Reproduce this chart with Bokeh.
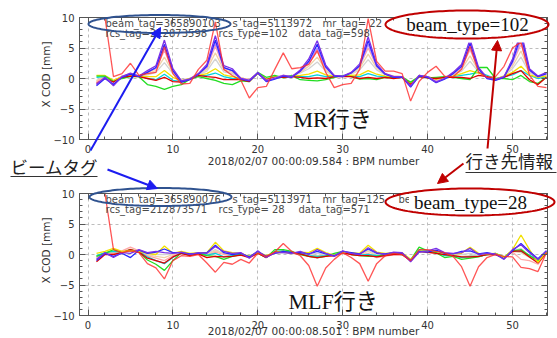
import numpy as np
from bokeh.plotting import figure
from bokeh.models import (Range1d, SingleIntervalTicker, FixedTicker, LinearAxis, Grid, Label,
                          Arrow, NormalHead, PolyAnnotation)
from bokeh.embed import file_html
from bokeh.resources import INLINE

# ---------------- data ----------------
bpm = list(range(1, 55))
x_major = [0, 10, 20, 30, 40, 50]
x_minor = [v for v in range(0, 55, 2) if v % 10]
y_major = [-10, -5, 0, 5, 10]
y_minor = [v for v in range(-10, 11) if v % 5]
y_label_overrides = {-10: "\u221210", -5: "\u22125"}
NA = float("nan")   # first BPM of the off-scale red trace is above the frame

mr_purple = [-1.0, 0.2, -1.2, 0.3, 0.9, 0.4, 1.3, 2.1, 6.3, 1.6,
             -0.4, -0.1, 0.8, 2.3, 7.0, 2.1, 1.6, 0.0, -0.3, 1.0,
             -0.4, 0.0, 0.5, 0.3, 1.4, 3.2, 6.2, 2.2, 0.5, 0.4,
             1.0, 2.4, 6.8, 2.4, 0.8, 0.3, 0.3, -1.3, 0.5, 0.3,
             -0.6, 0.0, 1.0, 2.3, 6.4, 1.8, 0.1, -0.2, 0.3, 3.2,
             7.8, 1.6, 0.4, 1.0]
mr_blue = [-1.2, 0.0, -1.0, 0.2, 0.7, 0.3, 1.0, 1.8, 5.6, 1.3,
           -0.6, -0.2, 0.7, 2.0, 6.3, 1.8, 1.3, -0.1, -0.4, 0.9,
           -0.5, -0.1, 0.4, 0.2, 1.2, 2.8, 5.6, 1.9, 0.4, 0.3,
           0.9, 2.1, 6.2, 2.1, 0.7, 0.2, 0.2, -1.4, 0.4, 0.2,
           -0.7, -0.1, 0.8, 2.0, 5.8, 1.6, 0.0, -0.3, 0.2, 2.8,
           7.0, 1.4, 0.3, 0.8]
mr_violet = [-0.9, 0.1, -0.9, 0.3, 0.8, 0.4, 1.1, 1.7, 5.1, 1.3,
             -0.4, -0.1, 0.7, 1.9, 5.8, 1.8, 1.3, 0.0, -0.3, 0.9,
             -0.3, 0.1, 0.5, 0.3, 1.2, 2.6, 5.0, 1.8, 0.4, 0.4,
             0.9, 2.0, 5.6, 2.0, 0.7, 0.3, 0.3, -1.2, 0.5, 0.3,
             -0.5, 0.0, 0.8, 1.9, 5.2, 1.6, 0.1, -0.2, 0.3, 2.6,
             6.3, 1.3, 0.3, 0.8]
mr_pink = [-0.6, 0.3, -0.6, 0.4, 0.8, 0.4, 1.0, 1.6, 4.6, 1.2,
           -0.3, 0.0, 0.8, 1.8, 5.3, 1.7, 1.2, 0.1, -0.2, 0.9,
           -0.2, 0.2, 0.5, 0.4, 1.1, 2.5, 4.4, 1.7, 0.5, 0.4,
           0.9, 2.0, 5.0, 2.0, 0.8, 0.4, 0.3, -1.1, 0.5, 0.3,
           -0.4, 0.1, 0.8, 1.8, 4.7, 1.5, 0.2, -0.1, 0.4, 2.5,
           5.6, 1.3, 0.3, 0.7]
mr_beige = [-0.4, 0.3, -0.5, 0.4, 0.7, 0.4, 0.8, 1.3, 3.5, 1.0,
            -0.3, 0.0, 0.7, 1.5, 4.2, 1.4, 1.0, 0.1, -0.2, 0.8,
            -0.2, 0.2, 0.5, 0.4, 1.0, 2.0, 3.5, 1.4, 0.5, 0.4,
            0.8, 1.7, 4.0, 1.7, 0.7, 0.4, 0.3, -1.0, 0.5, 0.3,
            -0.3, 0.1, 0.7, 1.5, 3.7, 1.3, 0.2, -0.1, 0.4, 2.0,
            4.5, 1.1, 0.3, 0.6]
mr_gray = [-0.3, 0.3, -0.4, 0.3, 0.6, 0.4, 0.6, 1.0, 2.6, 0.8,
           -0.3, 0.0, 0.6, 1.2, 3.2, 1.1, 0.8, 0.1, -0.2, 0.8,
           -0.2, 0.2, 0.4, 0.4, 0.9, 1.6, 2.7, 1.2, 0.4, 0.4,
           0.7, 1.4, 3.1, 1.4, 0.6, 0.4, 0.3, -1.0, 0.5, 0.3,
           -0.2, 0.1, 0.6, 1.2, 2.8, 1.1, 0.2, -0.1, 0.4, 1.6,
           3.5, 0.9, 0.3, 0.5]
mr_yellow = [0.5, 0.5, -0.3, 0.3, 0.5, 0.4, 0.3, 0.3, 1.3, 0.2,
             -0.4, 0.0, 0.5, 0.8, 1.6, 0.6, 0.3, 0.0, -0.3, 0.8,
             -0.1, 0.3, 0.3, 0.4, 0.5, 0.7, 1.2, 0.6, 0.4, 0.4,
             0.5, 0.6, 1.3, 0.7, 0.4, 0.3, 0.3, -0.8, 0.5, 0.3,
             -0.1, 0.2, 0.4, 0.8, 1.3, 0.9, 0.3, -0.1, 0.4, 1.0,
             2.0, 0.6, 0.2, 0.4]
mr_cyan = [0.2, 0.3, -0.4, 0.2, 0.5, 0.4, 0.0, -0.2, 0.7, -0.3,
           -0.5, 0.0, 0.4, 0.5, 0.9, 0.3, 0.0, -0.1, -0.4, 0.8,
           -0.1, 0.3, 0.2, 0.4, 0.3, 0.3, 0.6, 0.3, 0.3, 0.4,
           0.4, 0.3, 0.8, 0.4, 0.3, 0.2, 0.3, -0.8, 0.4, 0.2,
           0.0, 0.2, 0.3, 0.5, 0.7, 1.0, 0.5, -0.1, 0.3, 0.6,
           1.3, 0.5, 0.0, 0.3]
mr_green = [0.4, 0.4, -0.5, 0.0, 0.3, 0.3, -1.0, -1.3, -1.8, -1.3,
            -1.0, -0.1, 0.3, 0.0, -0.3, -0.8, -1.0, -0.4, -0.5, 1.0,
            0.2, 0.5, 0.1, 0.5, -0.2, -0.3, -0.4, -0.2, 0.2, 0.5,
            0.3, -0.1, 0.0, -0.2, 0.2, 0.1, 0.2, -0.6, 0.3, 0.1,
            0.2, 0.3, 0.2, 0.0, -0.2, 1.8, 1.8, 0.0, 0.0, -0.2,
            0.5, -0.5, -0.8, 0.2]
mr_red = [-0.8, 0.0, -0.6, 0.2, 0.4, 0.3, 0.0, -0.3, 0.2, -0.5,
          -0.6, -0.1, 0.5, 0.3, 0.2, -0.2, -0.2, -0.2, -0.5, 0.9,
          -0.2, 0.2, 0.2, 0.3, 0.2, 0.0, 0.1, 0.0, 0.3, 0.3,
          0.3, 0.0, 0.2, 0.0, 0.2, 0.0, 0.2, -1.0, 0.3, 0.1,
          0.0, 0.2, 0.2, 0.2, 0.0, 0.5, 0.3, -0.2, 0.2, 0.8,
          1.3, -0.2, -1.0, 0.2]
mr_outlier = [NA, 10.0, 0.3, 0.8, 2.5, 0.5, 0.8, 1.0, 5.2, 0.8,
              -0.9, -0.8, 1.5, 3.0, 9.3, 1.5, 0.5, -0.3, -3.2, -1.5,
              -1.3, 1.5, 4.2, 1.6, 1.8, 2.3, 4.6, 1.0, -1.5, -1.0,
              -0.8, 1.5, 9.8, 2.8, 1.2, 1.2, 0.8, -3.7, -0.5, 1.0,
              2.0, 0.4, 0.3, 1.5, 5.3, 1.0, 0.2, 0.3, 2.0, 5.0,
              6.0, 0.5, -1.3, -1.5]

mlf_purple = [-0.8, 0.3, -0.5, 0.3, 0.2, 0.8, 0.3, 0.5, 0.3, 0.2,
              0.4, 0.0, 0.3, 0.2, 1.3, 0.5, 0.2, 0.3, -0.6, 0.6,
              -0.5, 0.3, 0.3, 0.2, 0.5, 0.0, 0.8, 0.2, -0.3, 0.6,
              0.2, 0.0, 1.1, 0.3, 0.0, 0.4, 0.3, -1.2, 0.4, 0.6,
              1.0, 0.3, 0.2, 0.3, 1.0, 0.0, 0.2, 0.1, -0.8, 0.8,
              1.6, 0.3, -0.8, 0.6]
mlf_blue = [-1.0, 0.2, -0.3, 0.2, -0.5, 0.7, 0.2, 0.4, 0.9, 0.3,
            0.3, 0.1, 0.2, 0.3, 1.5, 0.3, 0.0, 0.2, -0.4, 0.5,
            -0.3, 0.2, 0.5, 0.3, 0.3, 0.1, 0.5, 0.1, -0.2, 0.5,
            0.3, 0.1, 0.9, 0.2, 0.1, 0.3, 0.2, -1.0, 0.5, 0.4,
            0.7, 0.2, 0.1, 0.5, 0.6, 0.1, 0.3, 0.0, -0.7, 0.6,
            1.8, 0.5, -0.7, 0.6]
mlf_yellow = [0.2, 0.5, 1.0, 0.5, 0.6, 0.5, 0.2, 0.0, 1.4, 0.2,
              0.5, 0.2, 0.3, 0.3, 2.0, 0.6, 0.3, 0.2, -0.3, 0.4,
              -0.2, 0.3, 0.5, 0.2, 0.4, 0.3, 1.0, 0.3, -0.1, 0.4,
              0.3, 0.2, 1.5, 0.4, 0.2, 0.3, 0.3, -0.8, 0.6, 0.5,
              0.5, 0.2, 0.1, 0.2, 1.2, 0.2, 0.1, 0.2, -0.5, 0.8,
              3.2, 0.8, -1.3, 0.5]
mlf_green = [-0.3, 0.2, 0.8, 0.3, 0.8, 0.4, -0.9, -1.6, -2.6, -1.0,
             0.3, -0.2, 0.2, -0.2, -0.3, -0.8, -0.3, 0.0, -0.3, 0.2,
             -0.5, 0.8, 0.8, 0.5, 0.0, -0.3, -0.5, -0.3, 0.2, 0.5,
             0.0, -0.2, -0.3, -0.3, 0.0, 0.1, 0.0, -0.9, 1.2, 0.6,
             0.3, -0.5, -0.3, -0.8, -0.6, -0.4, 0.0, 0.2, -0.4, 0.6,
             0.8, -0.2, -1.0, 0.4]
mlf_pink = [-0.5, 0.3, 0.2, 0.6, 1.2, 0.6, -0.2, -0.6, -1.0, -0.2,
            0.3, 0.0, 0.2, -0.2, 0.4, 0.0, -0.2, 0.0, -0.4, 0.2,
            -0.4, 0.2, 0.4, 0.2, 0.2, -0.3, -0.6, -0.2, -0.3, 0.2,
            0.0, -0.1, 0.2, -0.5, -0.3, 0.0, 0.0, -1.0, 0.5, 0.3,
            0.2, 0.0, -0.2, -0.5, -0.5, -0.3, 0.0, 0.0, -0.6, 0.4,
            -0.8, -1.0, -1.6, 0.3]
mlf_beige = [-0.4, 0.3, 0.3, 0.5, 0.9, 0.5, 0.0, -0.3, -0.5, 0.0,
             0.4, 0.0, 0.2, 0.0, 0.6, 0.2, 0.0, 0.1, -0.4, 0.3,
             -0.4, 0.2, 0.4, 0.2, 0.3, -0.1, -0.2, -0.1, -0.3, 0.3,
             0.1, 0.0, 0.5, -0.2, -0.2, 0.1, 0.1, -1.0, 0.5, 0.3,
             0.4, 0.1, -0.1, -0.3, -0.2, -0.2, 0.0, 0.0, -0.6, 0.5,
             0.3, -0.5, -1.3, 0.4]
mlf_gray = [-0.6, 0.2, 0.0, 0.4, 0.7, 0.6, 0.1, 0.0, 0.0, 0.1,
            0.3, 0.0, 0.2, 0.1, 0.8, 0.2, 0.1, 0.1, -0.5, 0.4,
            -0.4, 0.2, 0.3, 0.2, 0.3, 0.0, 0.2, 0.0, -0.3, 0.4,
            0.1, 0.0, 0.7, 0.0, -0.1, 0.2, 0.1, -1.1, 0.4, 0.4,
            0.6, 0.2, 0.0, 0.0, 0.2, -0.1, 0.1, 0.0, -0.7, 0.6,
            1.0, -0.2, -1.1, 0.5]
mlf_cyan = [-0.2, 0.3, 0.5, 0.4, 0.6, 0.5, -0.4, -1.0, -1.5, -0.5,
            0.3, -0.1, 0.2, -0.1, 0.2, -0.4, -0.2, 0.0, -0.3, 0.3,
            -0.4, 0.5, 0.6, 0.4, 0.1, -0.2, -0.3, -0.2, 0.0, 0.4,
            0.1, -0.1, 0.0, -0.2, -0.1, 0.1, 0.1, -0.9, 0.8, 0.5,
            0.3, -0.2, -0.2, -0.5, -0.3, -0.3, 0.0, 0.1, -0.5, 0.6,
            0.5, -0.1, -1.0, 0.4]
mlf_red = [-1.2, 0.0, 0.0, 0.3, 0.8, 0.4, -0.6, -1.0, -1.4, -0.4,
           0.2, -0.2, 0.1, -0.5, -0.3, -0.4, -0.3, -0.1, -0.5, 0.2,
           -0.5, 0.4, 0.5, 0.2, 0.1, -0.3, -0.5, -0.3, -0.2, 0.3,
           0.0, -0.2, -0.2, -0.4, -0.2, 0.0, 0.0, -1.0, 0.5, 0.4,
           0.2, 0.0, -0.2, -0.4, -0.4, -0.3, 0.0, 0.0, -0.6, 0.5,
           0.6, -0.4, -1.4, 0.3]
mlf_outlier = [NA, 10.0, 0.8, 0.3, 0.6, 0.3, -1.5, -2.2, -4.0, -1.0,
               -0.2, -0.3, 0.0, -1.4, -2.9, -1.3, -1.6, -0.8, -1.4, 0.2,
               -0.3, 0.4, 1.8, 0.5, -0.2, -1.8, -5.2, -2.2, -0.8, 0.3,
               -0.5, -1.5, -4.4, -1.5, -0.2, 0.2, 0.0, -1.0, 0.8, 0.8,
               0.5, 0.3, -0.3, -2.0, -5.2, -2.0, -0.5, 0.0, -0.3, -0.4,
               -2.1, -2.3, -2.8, 0.3]

mr_header1 = ["beam_tag=365890103", "s_tag=5113972", "mr_tag= 22", "beam_type=102"]
mr_header2 = ["rcs_tag=212873598", "rcs_type=102", "data_tag=598"]
mlf_header1 = ["beam_tag=365890076", "s_tag=5113971", "mr_tag=125", "beam_type= 28"]
mlf_header2 = ["rcs_tag=212873571", "rcs_type= 28", "data_tag=571"]
mr_xtitle = "2018/02/07 00:00:09.584 : BPM number"
mlf_xtitle = "2018/02/07 00:00:08.501 : BPM number"
y_title = "X COD [mm]"

# ---------------- styles / layout ----------------
mr_lines = [(mr_gray, "#d2d2d2", 1.0), (mr_beige, "#f0d2a8", 1.0), (mr_pink, "#ffa8a8", 1.0),
            (mr_cyan, "#00d0e0", 1.0), (mr_yellow, "#f2e000", 1.0), (mr_green, "#22dd22", 1.0),
            (mr_red, "#e00000", 1.0), (mr_violet, "#b080ff", 1.0), (mr_blue, "#2828ff", 1.0),
            (mr_purple, "#7a30e8", 1.0), (mr_outlier, "#ff2a2a", 0.8)]
mlf_lines = [(mlf_gray, "#d2d2d2", 1.0), (mlf_beige, "#f0d2a8", 1.0), (mlf_pink, "#ffa8a8", 1.0),
             (mlf_cyan, "#00d0e0", 1.0), (mlf_green, "#22dd22", 1.0), (mlf_red, "#e00000", 1.0),
             (mlf_yellow, "#f2e000", 1.0), (mlf_blue, "#2828ff", 1.0), (mlf_purple, "#7a30e8", 1.0),
             (mlf_outlier, "#ff2a2a", 0.8)]

W, H = 557, 338
KX, X0PX = 8.49, 87.5          # px per BPM, px of BPM 0
KY = 6.1                       # px per mm
Y0_TOP, Y0_BOT = 78.0, 254.0   # px of 0 mm in each panel
XA, XB = -1.0, 54.12           # panel box in BPM
AX = "#555555"
FONT = "DejaVu Sans"
SERIF = "'Liberation Serif', 'Noto Sans CJK JP'"
JP = "Noto Sans CJK JP"
BLUE, NAVY, RED = "#1c1cf0", "#2f528f", "#c00000"

p = figure(width=W, height=H, x_range=Range1d(-X0PX / KX, (W - X0PX) / KX),
           y_range=Range1d((Y0_TOP - H) / KY, Y0_TOP / KY),
           output_backend="svg", toolbar_location=None, x_axis_type=None, y_axis_type=None,
           min_border=0)
p.extra_y_ranges = {"bot": Range1d((Y0_BOT - H) / KY, Y0_BOT / KY)}
p.outline_line_color = None
p.background_fill_color = "white"
p.border_fill_color = "white"


def d(rx, ry):
    """page pixel -> data coords of the default (top) ranges"""
    return (rx - X0PX) / KX, (Y0_TOP - ry) / KY


def build_panel(rng, lines):
    xt = SingleIntervalTicker(interval=10, num_minor_ticks=5)
    yt = SingleIntervalTicker(interval=5, num_minor_ticks=5)
    common = dict(axis_line_color=AX, major_tick_line_color=AX, minor_tick_line_color=AX,
                  major_tick_out=0, minor_tick_out=0, major_label_text_font=FONT,
                  major_label_text_color="#333333", major_label_text_font_size="10px",
                  y_range_name=rng)
    for dim, t, b, cb in ((0, xt, (XA, XB), (-10, 10)), (1, yt, (-10, 10), (XA, XB))):
        p.add_layout(Grid(dimension=dim, ticker=t, bounds=b, cross_bounds=cb, y_range_name=rng,
                          grid_line_color="#bdbdbd", grid_line_dash="3 3", grid_line_width=1))
    for vals, c, a in lines:
        p.line(bpm, vals, line_color=c, line_width=1.3, line_alpha=a, y_range_name=rng)
    p.add_layout(LinearAxis(ticker=xt, fixed_location=-10, bounds=(XA, XB), major_tick_in=6,
                            minor_tick_in=3, major_label_standoff=5, **common), "below")
    p.add_layout(LinearAxis(ticker=yt, fixed_location=XA, bounds=(-10, 10), major_tick_in=6,
                            minor_tick_in=3, major_label_standoff=5,
                            major_label_overrides=y_label_overrides, **common), "left")
    for ticks, tin in ((x_major, 6), (x_minor, 3)):
        p.add_layout(LinearAxis(ticker=FixedTicker(ticks=[], minor_ticks=ticks), fixed_location=10,
                                bounds=(XA, XB), major_tick_in=0, minor_tick_in=tin, **common), "above")
    for ticks, tin in ((y_major, 6), (y_minor, 3)):
        p.add_layout(LinearAxis(ticker=FixedTicker(ticks=[], minor_ticks=ticks), fixed_location=XB,
                                bounds=(-10, 10), major_tick_in=0, minor_tick_in=tin, **common), "right")


def label(rx, ry, text, font, size, color, align="left", angle=0.0, bg=None, pad=0):
    x, y = d(rx, ry)
    p.add_layout(Label(x=x, y=y, text=text, text_font=font, text_font_size=f"{size}px",
                       text_color=color, text_align=align, text_baseline="middle", angle=angle,
                       background_fill_color=bg, padding=pad))


def arrow(x0, y0, x1, y1, color, head=True, width=2.0):
    a, b = d(x0, y0), d(x1, y1)
    end = NormalHead(size=10, fill_color=color, line_color=color) if head else None
    p.add_layout(Arrow(end=end, x_start=a[0], y_start=a[1], x_end=b[0], y_end=b[1],
                       line_color=color, line_width=width))


def ellipse(cx, cy, w, h, color):
    t = np.linspace(0, 2 * np.pi, 145)
    pts = [d(cx + w / 2 * np.cos(a), cy + h / 2 * np.sin(a)) for a in t]
    p.add_layout(PolyAnnotation(xs=[q[0] for q in pts], ys=[q[1] for q in pts],
                                xs_units="data", ys_units="data", fill_alpha=0,
                                line_color=color, line_alpha=1.0, line_width=2))


def texts(box_top, h1, h2, xtitle, title_dy, dest, dest_x, dest_y):
    for txt, rx in zip(h1, (105, 232, 322, 398)):
        label(rx, box_top + 6.3, txt, FONT, 10, "#4a4a4a")
    for txt, rx in zip(h2, (105, 218, 298)):
        label(rx, box_top + 15.8, txt, FONT, 10, "#4a4a4a")
    label(313, box_top + title_dy, xtitle, FONT, 10.5, "#333333", align="center")
    label(45, box_top + 57, y_title, FONT, 10.5, "#333333", align="center", angle=np.pi / 2)
    label(dest_x, dest_y, dest, SERIF, 22, "#111111")


build_panel("default", mr_lines)
build_panel("bot", mlf_lines)
texts(17, mr_header1, mr_header2, mr_xtitle, 143.5, "MR行き", 293, 119)
texts(193, mlf_header1, mlf_header2, mlf_xtitle, 137.5, "MLF行き", 288, 301)

label(467, 23.5, "beam_type=102", SERIF, 19, "#111111", align="center", bg="white", pad=8)
label(470, 201.5, "beam_type=28", SERIF, 19, "#111111", align="center", bg="white", pad=5)
ellipse(159, 23.5, 142, 18, NAVY)
ellipse(466.5, 24, 163, 28, RED)
ellipse(160, 196.5, 142, 18, NAVY)
ellipse(469.5, 201.5, 169, 27, RED)

label(10, 165.5, "ビームタグ", JP, 17.5, "#222222")
arrow(10, 176, 97, 176, "#333333", head=False, width=1)
label(465, 160, "行き先情報", JP, 17.5, "#222222")
arrow(465, 172, 556, 172, "#333333", head=False, width=1)

arrow(90, 150, 160, 27, BLUE)
arrow(107, 169, 157, 188, BLUE)
arrow(487, 148, 497, 40, RED)
arrow(463, 163, 437, 183, RED)

open("out.html", "w").write(file_html(p, INLINE))
